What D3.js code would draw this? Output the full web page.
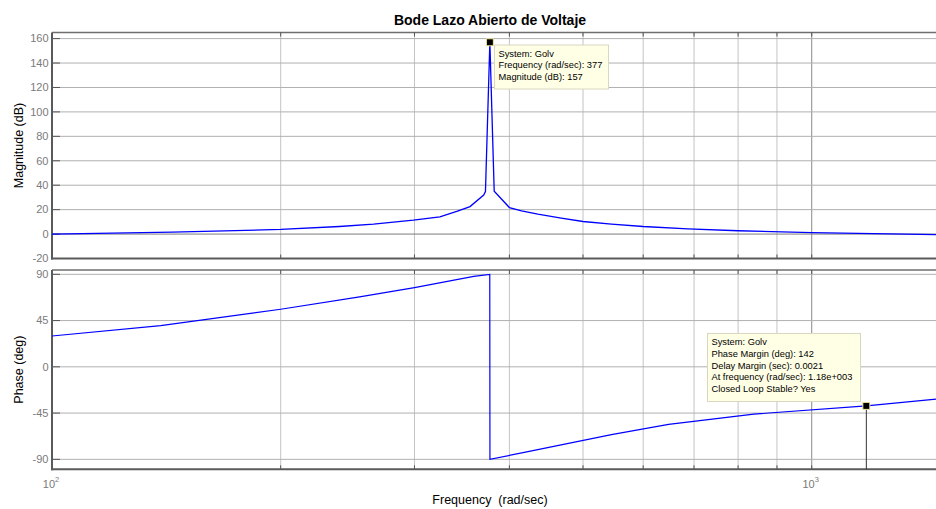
<!DOCTYPE html>
<html><head><meta charset="utf-8">
<script src="https://cdn.jsdelivr.net/npm/d3@7"></script>
<style>
html,body{margin:0;padding:0;background:#fff;}
svg{display:block;font-family:"Liberation Sans",Arial,sans-serif;}
</style></head>
<body><svg id="c" width="936" height="509"></svg>
<script>
// ---- data ----
const title = "Bode Lazo Abierto de Voltaje";
const magFreq = [100, 144, 200, 239, 265, 299, 324, 341, 355, 370, 372, 377, 382, 400, 415, 436, 468, 500, 545, 600, 687, 800, 1000, 1500];
const magDb   = [0, 1.6, 3.8, 6.2, 8.2, 11.4, 14.1, 18.5, 22.5, 32, 34.8, 157, 35, 21.7, 19, 16.3, 13, 10.3, 8.2, 6.2, 4.3, 2.7, 1.1, -0.5];
const phaseFreq = [100, 139, 200, 254, 300, 359, 376.9, 377.1, 420, 545, 648, 839, 1180, 1500];
const phaseDeg  = [30, 40, 56, 68, 77, 88, 90, -90, -83, -66, -56, -46, -38, -30.5];
const magTicks = [-20, 0, 20, 40, 60, 80, 100, 120, 140, 160];
const phaseTicks = [-90, -45, 0, 45, 90];
const freqGrid = [200, 300, 400, 500, 600, 700, 800, 900, 1000];
const freqMajor = [100, 1000];
const freqMajorLabels = [["10","2"],["10","3"]];
const tip1 = {f: 377, v: 157, lines: ["System: Golv", "Frequency (rad/sec): 377", "Magnitude (dB): 157"]};
const tip2 = {f: 1180, v: -38, lines: ["System: Golv", "Phase Margin (deg): 142", "Delay Margin (sec): 0.0021", "At frequency (rad/sec): 1.18e+003", "Closed Loop Stable? Yes"]};

// ---- layout ----
const svg = d3.select("#c");
const L = 52, R = 945.5;
const x = d3.scaleLog().domain([100, 1500]).range([L, R]);
const yM = d3.scaleLinear().domain([-20, 165]).range([258.5, 32.5]);
const yP = d3.scaleLinear().domain([-99.7, 94.2]).range([469.3, 270]);

function panel(y, ticks, zeroDark) {
  const g = svg.append("g");
  const [b, t] = y.range();
  freqGrid.forEach(f => {
    g.append("line").attr("x1", x(f)).attr("x2", x(f)).attr("y1", t).attr("y2", b)
      .attr("stroke", f === 1000 ? "#8a8a8a" : "#c4c4c4").attr("stroke-width", 1);
  });
  ticks.forEach(v => {
    g.append("line").attr("x1", L).attr("x2", R).attr("y1", y(v)).attr("y2", y(v))
      .attr("stroke", (zeroDark && v === 0) ? "#7a7a7a" : "#b0b0b0").attr("stroke-width", 1);
  });
  g.append("line").attr("x1", L).attr("x2", R).attr("y1", t).attr("y2", t)
    .attr("stroke", "#6e6e6e").attr("stroke-width", 1.5);
  freqGrid.forEach(f => {
    g.append("line").attr("x1", x(f)).attr("x2", x(f)).attr("y1", t).attr("y2", t + 4).attr("stroke", "#555");
    g.append("line").attr("x1", x(f)).attr("x2", x(f)).attr("y1", b).attr("y2", b - 4).attr("stroke", "#555");
  });
  ticks.forEach(v => {
    g.append("line").attr("x1", L).attr("x2", L + 8).attr("y1", y(v)).attr("y2", y(v)).attr("stroke", "#555");
    g.append("text").attr("x", 48.5).attr("y", y(v)).attr("dy", "0.35em").attr("text-anchor", "end")
      .attr("font-size", 11).attr("fill", "#7a7a7a").text(v);
  });
  g.append("line").attr("x1", L).attr("x2", L).attr("y1", t).attr("y2", b + 1).attr("stroke", "#5a5a5a").attr("stroke-width", 2);
  g.append("line").attr("x1", L - 1).attr("x2", R).attr("y1", b).attr("y2", b).attr("stroke", "#5a5a5a").attr("stroke-width", 2);
  return g;
}

const gM = panel(yM, magTicks, true);
const gP = panel(yP, phaseTicks, false);

const lineM = d3.line().x((d, i) => x(magFreq[i])).y(d => yM(d));
gM.append("path").datum(magDb).attr("d", lineM).attr("fill", "none").attr("stroke", "#0000ff").attr("stroke-width", 1.3);
const lineP = d3.line().x((d, i) => x(phaseFreq[i])).y(d => yP(d));
gP.append("path").datum(phaseDeg).attr("d", lineP).attr("fill", "none").attr("stroke", "#0000ff").attr("stroke-width", 1.2);

freqMajor.forEach((f, i) => {
  const t = svg.append("text").attr("x", x(f) - 1).attr("y", 488).attr("text-anchor", "middle")
    .attr("font-size", 11).attr("fill", "#7a7a7a");
  t.append("tspan").text(freqMajorLabels[i][0]);
  t.append("tspan").attr("dy", -6).attr("font-size", 7.5).text(freqMajorLabels[i][1]);
});

svg.append("text").attr("x", 490).attr("y", 25).attr("text-anchor", "middle")
  .attr("font-size", 14).attr("font-weight", "bold").attr("fill", "#000").text(title);
svg.append("text").attr("x", 490).attr("y", 504).attr("text-anchor", "middle")
  .attr("font-size", 12.5).attr("fill", "#000").attr("xml:space", "preserve").text("Frequency  (rad/sec)");
svg.append("text").attr("transform", `translate(23,${(yM.range()[0] + yM.range()[1]) / 2}) rotate(-90)`)
  .attr("text-anchor", "middle").attr("font-size", 12.5).attr("fill", "#000").text("Magnitude (dB)");
svg.append("text").attr("transform", `translate(23,${(yP.range()[0] + yP.range()[1]) / 2}) rotate(-90)`)
  .attr("text-anchor", "middle").attr("font-size", 12.5).attr("fill", "#000").text("Phase (deg)");

function tip(g, y, tp, bx, by, bw, bh, stem) {
  const px = x(tp.f), py = y(tp.v);
  if (stem) g.append("line").attr("x1", px).attr("x2", px).attr("y1", py).attr("y2", y.range()[0]).attr("stroke", "#333");
  g.append("rect").attr("x", bx).attr("y", by).attr("width", bw).attr("height", bh)
    .attr("fill", "#ffffe6").attr("stroke", "#d8d8c0").attr("stroke-width", 1);
  tp.lines.forEach((s, i) => {
    g.append("text").attr("x", bx + 4).attr("y", by + 11.5 + i * 11.8).attr("font-size", 9.3).attr("fill", "#000").text(s);
  });
  g.append("rect").attr("x", px - 3.5).attr("y", py - 3.5).attr("width", 7).attr("height", 7)
    .attr("fill", "#000").attr("stroke", "#f0e8a0").attr("stroke-width", 1);
}
tip(gM, yM, tip1, 494.5, 45, 114, 44, false);
tip(gP, yP, tip2, 707.5, 333.5, 153, 68, true);
</script></body></html>
